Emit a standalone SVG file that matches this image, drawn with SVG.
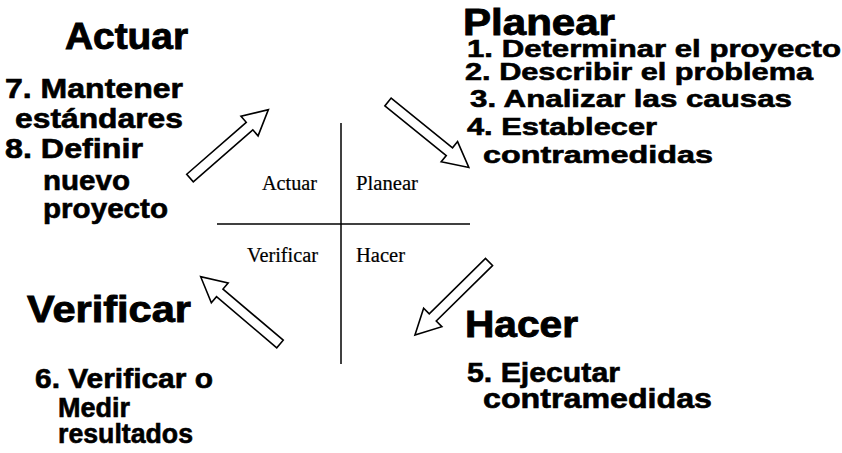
<svg xmlns="http://www.w3.org/2000/svg" xmlns:xlink="http://www.w3.org/1999/xlink" width="842" height="453" viewBox="0 0 842 453">
<style>
.h{font-family:"Liberation Sans",Arial,sans-serif;font-weight:bold;font-size:37px;fill:#000;stroke:#000;stroke-width:0.9}
.i{font-family:"Liberation Sans",Arial,sans-serif;font-weight:bold;font-size:27px;fill:#000;stroke:#000;stroke-width:0.6}
.p{font-family:"Liberation Sans",Arial,sans-serif;font-weight:bold;font-size:24px;fill:#000;stroke:#000;stroke-width:0.6}
.s{font-family:"Liberation Serif","Times New Roman",serif;font-size:20px;fill:#000;stroke:#000;stroke-width:0.2}
.ln{stroke:#000;stroke-width:1.5;fill:none}
.ar{fill:#fff;stroke:#000;stroke-width:1.6;stroke-linejoin:miter}
</style>
<defs>
<polygon id="blk" points="0,-5 79,-5 79,-13 104,0 79,13 79,5 0,5"/>
</defs>
<rect width="842" height="453" fill="#fff"/>
<g id="connectors">
<line class="ln" x1="217" y1="224" x2="470" y2="224"/>
<line class="ln" x1="341" y1="123" x2="341" y2="364"/>
<use xlink:href="#blk" class="ar" transform="translate(190,178) rotate(-41.1)"/>
<use xlink:href="#blk" class="ar" transform="translate(388,102) rotate(39)"/>
<use xlink:href="#blk" class="ar" transform="translate(489,262) rotate(135.4)"/>
<use xlink:href="#blk" class="ar" transform="translate(280,344) rotate(-139.7)"/>
</g>
<g id="center-labels">
<text class="s" x="262" y="190" textLength="55" lengthAdjust="spacingAndGlyphs">Actuar</text>
<text class="s" x="356" y="190" textLength="62" lengthAdjust="spacingAndGlyphs">Planear</text>
<text class="s" x="247" y="262" textLength="71" lengthAdjust="spacingAndGlyphs">Verificar</text>
<text class="s" x="356" y="262" textLength="49" lengthAdjust="spacingAndGlyphs">Hacer</text>
</g>
<g id="actuar">
<text class="h" x="65" y="49" textLength="123" lengthAdjust="spacingAndGlyphs">Actuar</text>
<text class="i" x="5" y="98" textLength="178" lengthAdjust="spacingAndGlyphs">7. Mantener</text>
<text class="i" x="15" y="128" textLength="168" lengthAdjust="spacingAndGlyphs">estándares</text>
<text class="i" x="5" y="158" textLength="138" lengthAdjust="spacingAndGlyphs">8. Definir</text>
<text class="i" x="43" y="190" textLength="87" lengthAdjust="spacingAndGlyphs">nuevo</text>
<text class="i" x="43" y="218" textLength="125" lengthAdjust="spacingAndGlyphs">proyecto</text>
</g>
<g id="planear">
<text class="h" x="463" y="35" textLength="152" lengthAdjust="spacingAndGlyphs">Planear</text>
<text class="p" x="467" y="57" textLength="374" lengthAdjust="spacingAndGlyphs">1. Determinar el proyecto</text>
<text class="p" x="465" y="80" textLength="348" lengthAdjust="spacingAndGlyphs">2. Describir el problema</text>
<text class="p" x="470" y="107" textLength="322" lengthAdjust="spacingAndGlyphs">3. Analizar las causas</text>
<text class="p" x="467" y="135" textLength="190" lengthAdjust="spacingAndGlyphs">4. Establecer</text>
<text class="p" x="483" y="163" textLength="230" lengthAdjust="spacingAndGlyphs">contramedidas</text>
</g>
<g id="verificar">
<text class="h" x="27" y="322" textLength="164" lengthAdjust="spacingAndGlyphs">Verificar</text>
<text class="i" x="35" y="388" textLength="178" lengthAdjust="spacingAndGlyphs">6. Verificar o</text>
<text class="i" x="58" y="417" textLength="72" lengthAdjust="spacingAndGlyphs">Medir</text>
<text class="i" x="58" y="443" textLength="135" lengthAdjust="spacingAndGlyphs">resultados</text>
</g>
<g id="hacer">
<text class="h" x="465" y="337" textLength="113" lengthAdjust="spacingAndGlyphs">Hacer</text>
<text class="i" x="467" y="382" textLength="153" lengthAdjust="spacingAndGlyphs">5. Ejecutar</text>
<text class="i" x="483" y="408" textLength="229" lengthAdjust="spacingAndGlyphs">contramedidas</text>
</g>
</svg>
